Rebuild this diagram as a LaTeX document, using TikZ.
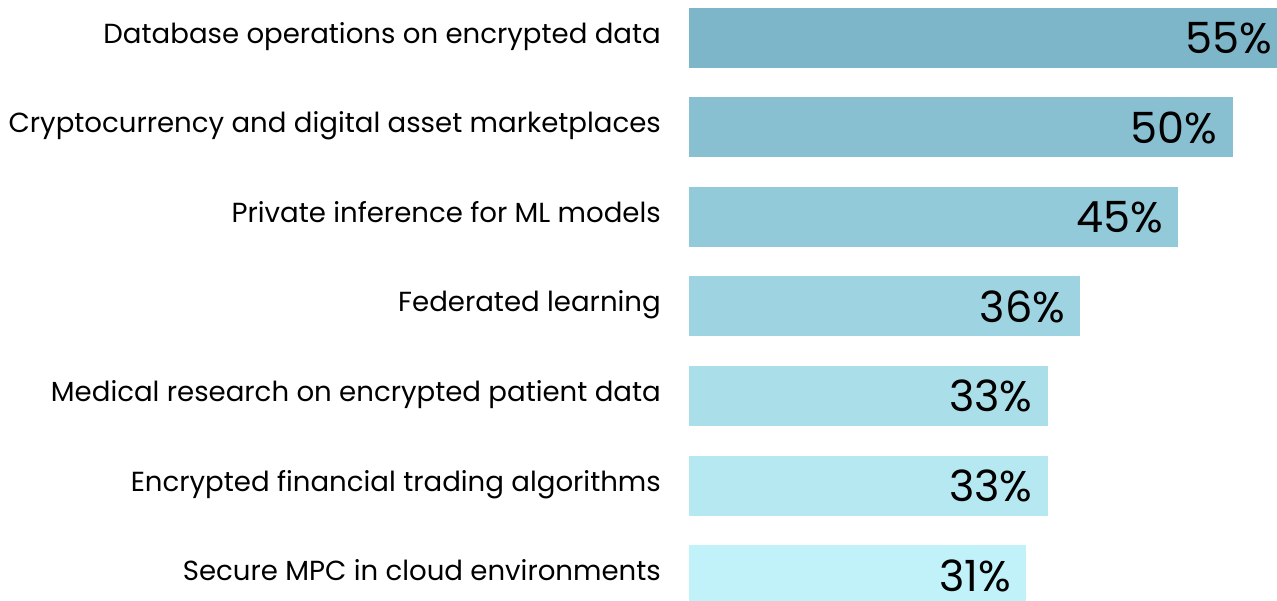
\documentclass[tikz,border=0pt]{standalone}
\usepackage{fontspec}
\setmainfont{Poppins}
\definecolor{cA}{RGB}{125,182,201}
\definecolor{cB}{RGB}{136,192,210}
\definecolor{cC}{RGB}{147,202,218}
\definecolor{cD}{RGB}{158,212,225}
\definecolor{cE}{RGB}{170,222,233}
\definecolor{cF}{RGB}{181,232,241}
\definecolor{cG}{RGB}{193,242,249}
\tikzset{
  lab/.style={anchor=base east, inner sep=0pt, font=\fontsize{27.6}{32}\selectfont},
  pct/.style={anchor=base east, inner sep=0pt, font=\fontsize{43}{50}\selectfont},
}
\begin{document}
\begin{tikzpicture}[x=1pt,y=-1pt]
\useasboundingbox (0,0) rectangle (1277,601);
\clip (0,0) rectangle (1277,601);
\foreach \i/\c/\v/\t in {0/cA/55/Database operations on encrypted data,
                         1/cB/50/Cryptocurrency and digital asset marketplaces,
                         2/cC/45/Private inference for ML models,
                         3/cD/36/Federated learning,
                         4/cE/33/Medical research on encrypted patient data,
                         5/cF/33/Encrypted financial trading algorithms,
                         6/cG/31/Secure MPC in cloud environments}{
  \pgfmathsetmacro{\ytop}{8+89.5*\i}
  \pgfmathsetmacro{\xend}{689+10.87*\v}
  \fill[\c] (689,\ytop) rectangle (\xend,\ytop+60);
  \node[lab] (l\i) at (661,\ytop+35.5) {\t};
  \node[pct] (p\i) at (\xend-15,\ytop+46) {\v\%};
}
\end{tikzpicture}
\end{document}
